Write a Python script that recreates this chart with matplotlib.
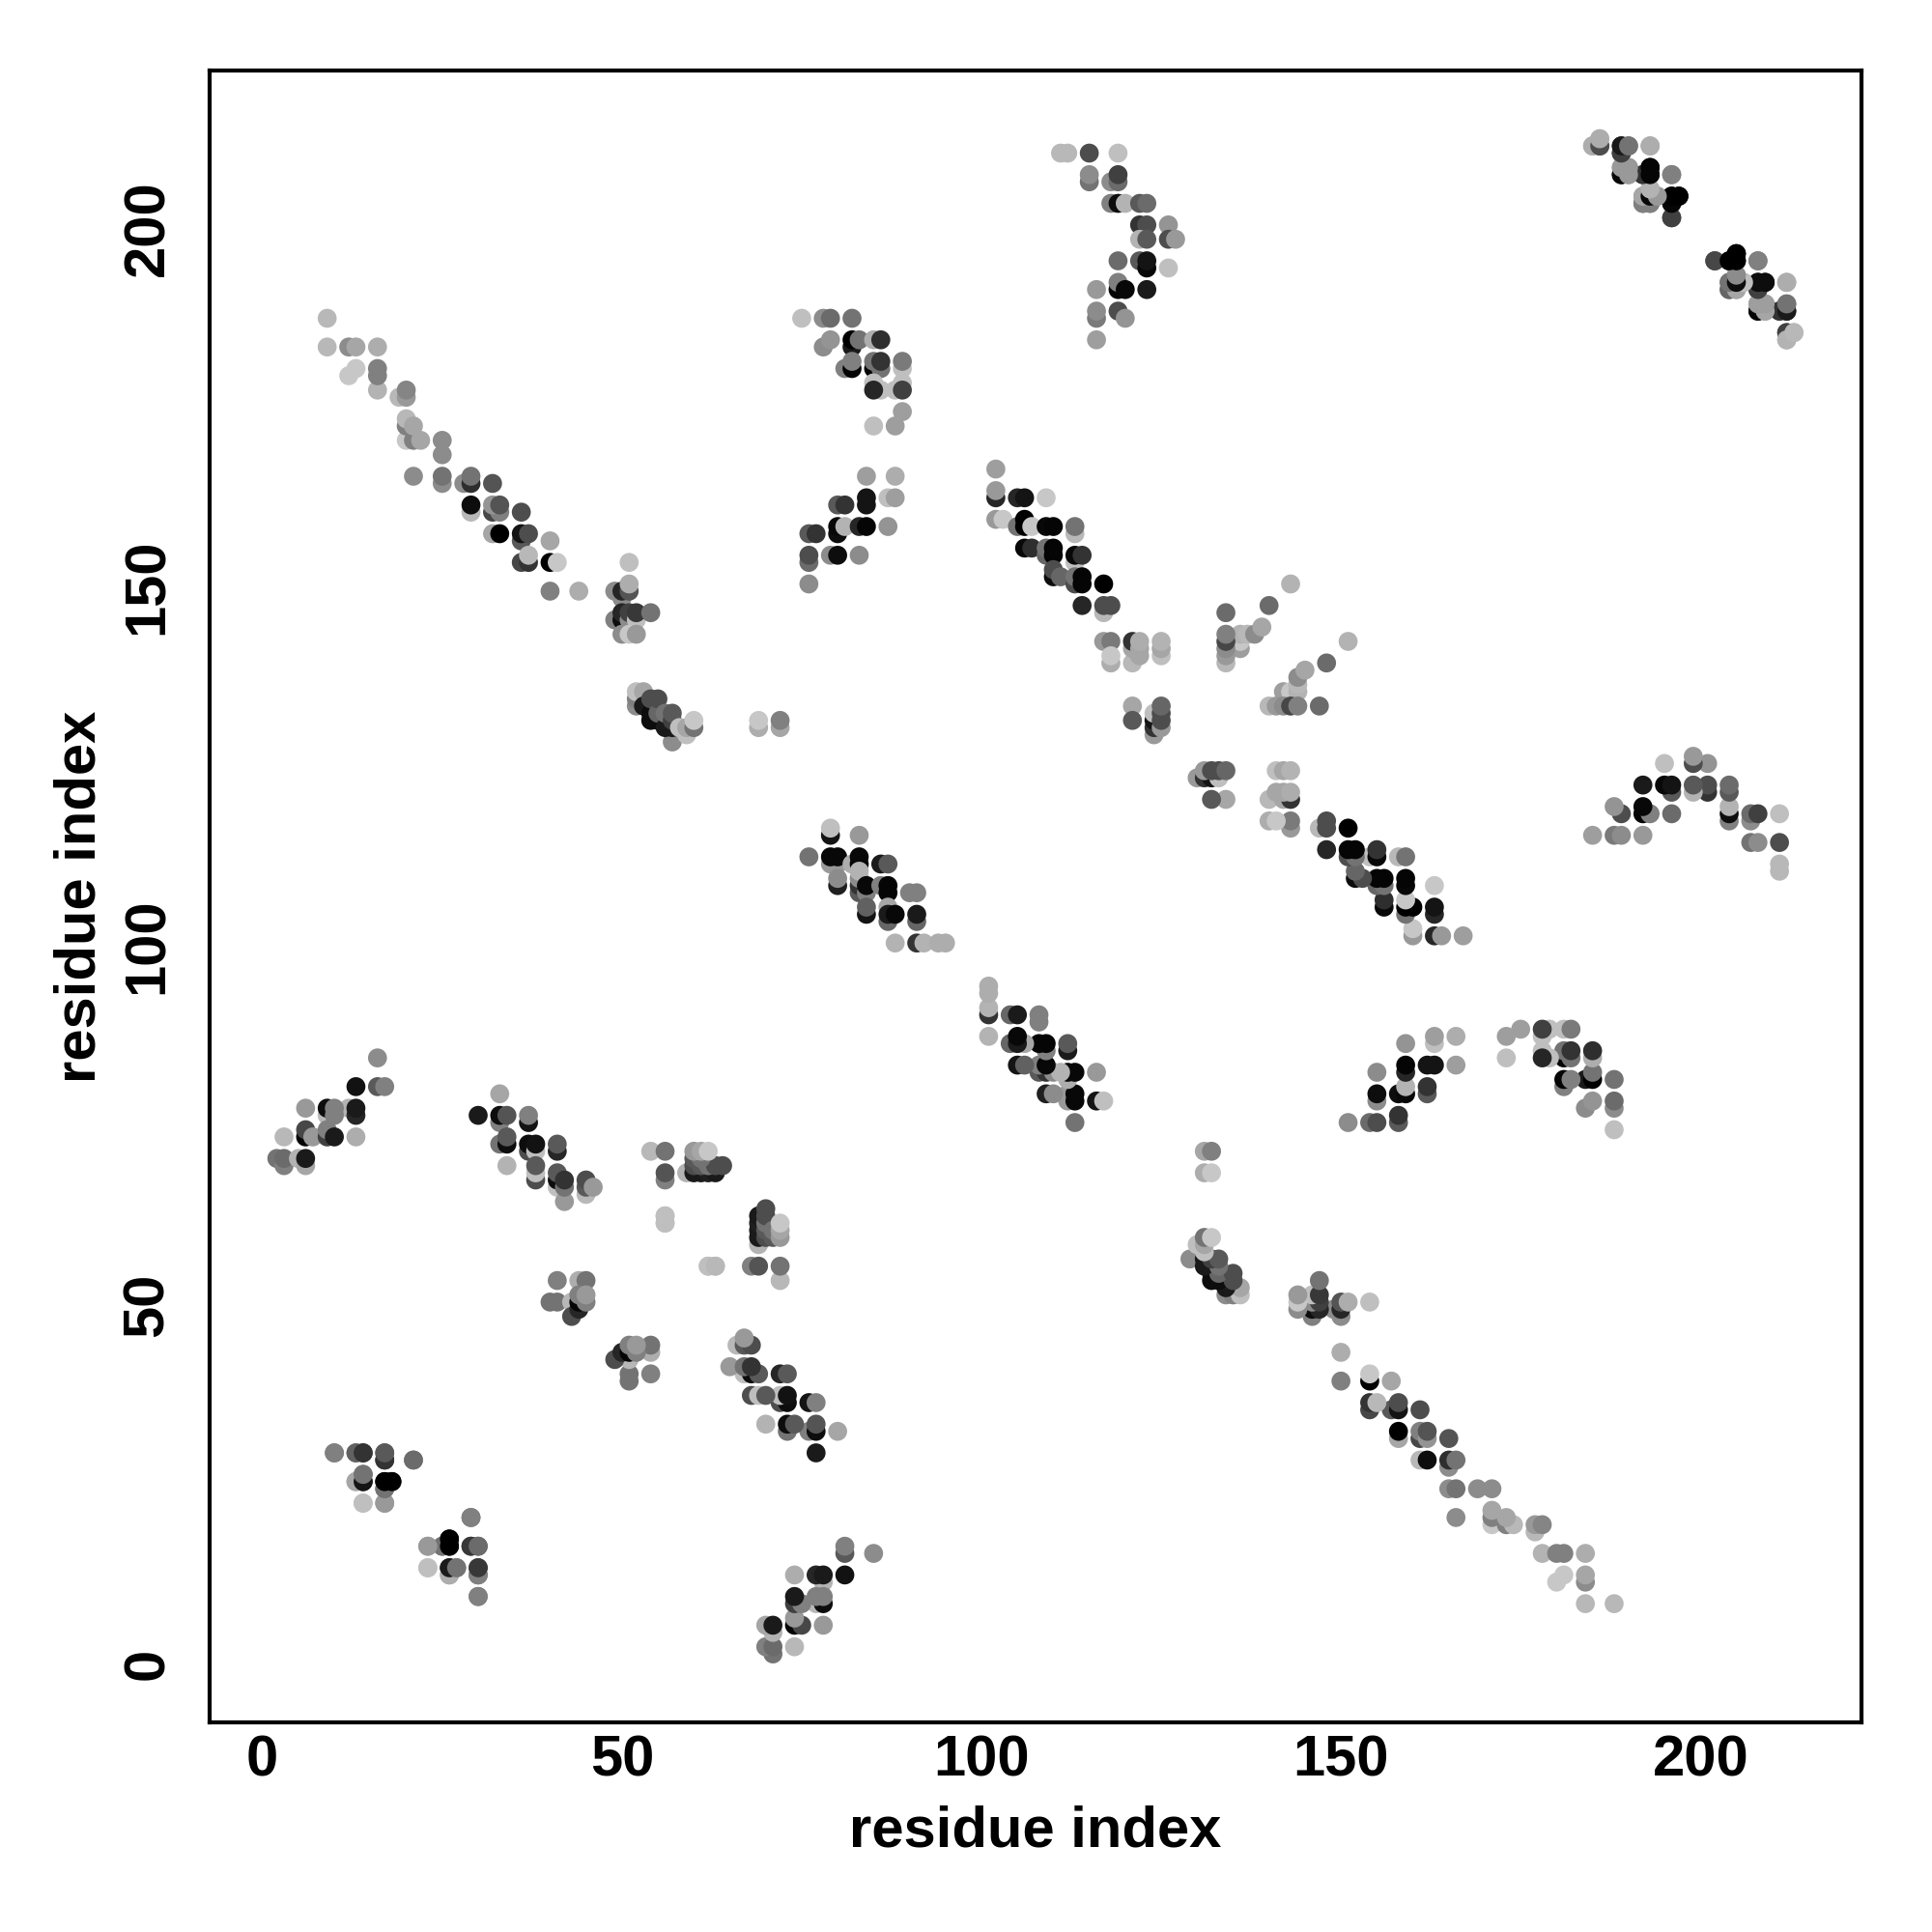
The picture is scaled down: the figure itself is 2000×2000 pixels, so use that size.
import matplotlib
matplotlib.use("Agg")
import matplotlib.pyplot as plt
from matplotlib.transforms import ScaledTranslation

plt.rcParams['font.family'] = ['Liberation Sans', 'DejaVu Sans']

# residue i, residue j, grey level (each contact is shown at (i,j) and (j,i))
cluster_a = [(16,85,.55),(13,81,.07),(16,81,.35),(17,81,.5),(6,78,.6),(9,77,.72),(9,78,.05),(12,78,.7),(10,78,.5),(10,77,.5),(13,77,.15),(13,78,.1),
             (6,74,.02),(6,75,.28),(7,74,.6),(9,74,.25),(9,75,.5),(10,74,.1),(3,74,.72),(13,74,.68),(2,71,.45),(3,70,.5),(3,71,.42),(5,71,.7),(6,70,.65),(6,71,.1)]
cluster_c = [(33,80,.65),(30,77,.1),(33,76,.5),(33,77,.05),(34,77,.33),(37,76,.08),(37,77,.5),(33,73,.45),(34,73,.05),(34,74,.35),(34,70,.7),
             (37,72,.3),(37,73,.05),(38,72,.75),(38,73,.07),(41,72,.15),(41,73,.35),(38,68,.3),(38,69,.75),(38,70,.35),(41,67,.75),(41,68,.05),(41,69,.35),
             (42,65,.6),(42,67,.45),(42,68,.2),(45,66,.72),(45,67,.35),(45,68,.3),(46,67,.6)]
cluster_d = [(10,30,.5),(13,30,.5),(14,30,.22),(17,29,.22),(17,30,.42),(21,29,.5),(13,26,.68),(14,26,.1),(14,27,.45),(17,25,.45),(17,26,0),(18,26,0),
             (14,23,.75),(17,23,.6),(29,21,.42),(23,17,.6),(25,17,.45),(26,18,0),(26,17,0),(29,17,.2),(30,17,.35),(23,14,.75),(26,13,.65),(26,14,.08),(27,14,.45),
             (30,13,.38),(30,14,.2),(30,10,.5)]
cluster_e = [(41,54,.5),(44,54,.68),(45,54,.45),(40,51,.45),(41,51,.45),(43,51,.72),(43,49,.3),(44,50,.15),(44,51,.02),(45,51,.5),(44,52,.5),(45,52,.6)]
cluster_f = [(54,72,.72),(56,72,.45),(56,68,.5),(56,69,.33),(56,62,.75),(56,63,.72),(62,56,.75),(63,56,.75),(59,69,.7),
             (60,69,.1),(61,69,.1),(62,69,.12),(63,69,.1),(60,70,.3),(61,70,.35),(62,70,.45),(63,70,.3),
             (60,71,.35),(61,71,.45),(60,72,.6),(61,72,.65),(62,72,.78),(64,70,.3)]
cluster_b1 = [(9,188,.72),(9,184,.72),(12,184,.55),(13,184,.65),(16,184,.68),(12,180,.78),(13,181,.78),(16,178,.7),(16,180,.5),(16,181,.5),
              (19,177,.72),(20,177,.6),(20,178,.52),(20,171,.78),(20,173,.5),(20,174,.72),(21,171,.5),(21,173,.65),(22,171,.65),
              (25,169,.55),(25,171,.55),(21,166,.55),(25,165,.55),(25,166,.45),(28,165,.55),(29,165,.18),(29,166,.45),(32,165,.33),
              (29,161,.72),(29,162,.05),(32,161,.28),(33,161,.5),(32,162,.58),(33,162,.33),(36,161,.3),(32,158,.65),(33,158,.0),
              (36,157,.35),(36,158,.08),(37,158,.3),(40,157,.65),(36,154,.28),(37,154,.2),(37,155,.72),(40,154,.0),(41,154,.78),(40,150,.5),(44,150,.68)]
cluster_b2 = [(51,154,.75),(49,150,.55),(50,149,.55),(50,150,.15),(51,150,.33),(51,151,.68),(49,146,.5),(50,146,.05),(50,147,.15),(51,146,.55),(51,147,.25),
              (52,146,.75),(52,147,.22),(54,147,.45),(50,144,.55),(51,144,.78),(52,144,.6),
              (52,134,.55),(52,135,.5),(52,136,.75),(53,136,.65),(53,134,.1),(54,132,.05),(54,133,.05),(54,135,.3),(55,132,.05),(55,133,.4),(55,135,.3),
              (57,129,.55),(56,131,.1),(57,131,.1),(56,133,.45),(57,132,.25),(57,133,.35),(58,131,.75),(59,130,.75),(59,131,.65),(60,131,.45),(60,132,.78),
              (69,131,.68),(69,132,.78),(72,131,.65),(72,132,.5)]
cluster_g = [(75,188,.75),(78,188,.55),(79,188,.42),(82,188,.45),(78,184,.55),(79,185,.58),(82,184,.1),(82,185,.0),(83,185,.45),(85,185,.68),(86,185,.18),
             (81,181,.5),(82,181,.02),(82,182,.5),(85,181,.02),(86,181,.45),(85,182,.45),(86,182,.2),(89,181,.75),(89,182,.48),
             (85,179,.75),(86,178,.75),(88,178,.75),(89,179,.75),(85,178,.15),(89,178,.25),(89,175,.62),(85,173,.75),(88,173,.62)]
cluster_h = [(84,166,.62),(88,166,.68),(87,163,.75),(88,163,.62),(84,162,.08),(84,163,.08),(80,162,.35),(81,162,.2),(80,158,.05),(80,159,.03),(81,159,.7),
             (83,159,.15),(84,159,.02),(87,159,.58),(76,158,.35),(77,158,.2),(76,154,.42),(76,155,.3),(79,155,.55),(80,155,.05),(83,155,.55),(76,151,.55)]
cluster_i = [(79,116,.08),(79,117,.75),(83,116,.6),(76,113,.45),(79,112,.6),(80,112,.6),(79,113,.03),(80,113,.03),(82,112,.68),(83,112,.02),(83,113,.03),
             (80,109,.12),(80,110,.55),(83,108,.35),(83,109,.2),(83,110,.55),(83,111,.7),(86,112,.1),(87,112,.35),(84,108,.5),(84,109,.03),
             (86,109,.5),(87,108,.02),(87,109,.02),(84,105,.08),(84,106,.38),(87,104,.4),(87,106,.65),(87,105,.1),(88,105,.03),
             (90,108,.5),(91,108,.5),(91,104,.4),(91,105,.1),(88,101,.7),(91,101,.2),(92,101,.7),(94,101,.68),(95,101,.68)]
cluster_l = [(102,167,.62),(102,163,.15),(102,164,.6),(105,163,.15),(106,163,.08),(109,163,.78),(102,160,.6),(103,160,.78),(105,159,.45),(106,159,.0),(106,160,.0),(107,159,.78),
             (109,159,.03),(110,159,.02),(113,158,.72),(113,159,.45),(106,156,.03),(107,156,.18),(109,155,.4),(109,156,.45),(110,155,.02),(110,156,.02),
             (113,154,.75),(113,155,.03),(114,155,.2),(110,152,.05),(110,153,.3),(111,152,.4),(113,151,.3),(113,152,.45),(114,151,.02),(114,152,.02),
             (117,151,.0),(114,148,.15),(117,147,.72),(117,148,.3),(118,148,.3),(117,143,.6),(118,143,.48),
             (121,140,.72),(121,142,.65),(121,143,.2),(122,141,.65),(122,142,.65),(122,143,.68),(125,141,.75),(125,142,.65),(125,143,.7),(118,140,.68),(118,141,.78),
             (121,134,.65),(121,132,.35),(124,130,.6),(124,131,.2),(124,132,.08),(124,133,.75),(125,131,.6),(125,132,.3),(125,133,.3),(125,134,.4)]
cluster_m = [(111,211,.72),(112,211,.72),(115,211,.3),(119,211,.75),(115,207,.45),(115,208,.55),(118,207,.55),(119,207,.42),(119,208,.25),
             (118,204,.5),(119,204,.05),(120,204,.7),(122,204,.35),(123,204,.42),(122,201,.2),(123,201,.3),(126,201,.58),
             (122,199,.7),(123,199,.35),(126,199,.3),(127,199,.6),(119,196,.42),(122,196,.35),(123,195,.03),(123,196,.08),(126,195,.75),
             (119,192,.02),(119,193,.5),(120,192,.03),(123,192,.1),(116,192,.6),(116,188,.48),(116,189,.55),(119,189,.3),(120,188,.58),(116,185,.62)]
cluster_p = [(186,212,.25),(185,212,.7),(186,213,.72),(189,211,.2),(189,212,.1),(190,212,.45),(193,212,.68),(189,208,.02),(189,209,.65),(190,208,.62),(190,209,.62),
             (192,208,.25),(193,208,.05),(193,209,.05),(196,208,.5),(192,204,.4),(192,205,.65),(193,204,.45),(193,206,.75),(193,205,.05),(194,205,.55),
             (196,202,.28),(196,204,.0),(196,205,.0),(197,205,.0),(202,196,.25),(204,196,.02),(205,196,.0),(205,197,.0),(208,196,.5),
             (204,192,.5),(204,193,.5),(205,192,.65),(205,193,.03),(205,194,.6),(206,193,.7),(208,192,.2),(208,193,.02),(209,193,.02),(212,193,.68),
             (208,189,.03),(209,189,.6),(208,190,.6),(209,190,.6),(211,189,.25),(212,189,.1),(212,190,.45),(212,185,.68),(212,186,.3),(213,186,.68)]
cluster_n = [(143,151,.7),(140,148,.42),(134,147,.42),(136,142,.62),(136,143,.78),(136,144,.7),(137,144,.72),(138,144,.55),(139,145,.65),
             (134,140,.72),(134,141,.6),(134,142,.55),(134,143,.28),(134,144,.5)]

clusters = [cluster_a, cluster_c, cluster_d, cluster_e, cluster_f, cluster_b1, cluster_b2, cluster_g,
            cluster_h, cluster_i, cluster_l, cluster_m, cluster_p, cluster_n]
x_ticks = [0, 50, 100, 150, 200]
y_ticks = [0, 50, 100, 150, 200]
axis_label = "residue index"

fig = plt.figure(figsize=(10, 10), dpi=200)
ax = fig.add_axes([217/2000, 1-1783/2000, (1927-217)/2000, (1783-73)/2000])

for cluster in clusters:
    xs = [c[0] for c in cluster]
    ys = [c[1] for c in cluster]
    gs = [str(c[2]) for c in cluster]
    ax.scatter(xs, ys, s=50, c=gs, linewidths=0, zorder=2)
    ax.scatter(ys, xs, s=50, c=gs, linewidths=0, zorder=2)

ax.set_xlim(-7.35, 222.4)
ax.set_ylim(-7.53, 222.5)
ax.set_xticks(x_ticks)
ax.set_yticks(y_ticks)
ax.tick_params(axis='x', length=0, labelsize=21.5, pad=4.5)
ax.tick_params(axis='y', length=0, labelsize=21.5, pad=13)
for lab in ax.get_xticklabels():
    lab.set_fontweight('bold')
lift = ScaledTranslation(0, 1.6/72, fig.dpi_scale_trans)
for lab in ax.get_yticklabels():
    lab.set_fontweight('bold')
    lab.set_rotation(90)
    lab.set_va('center')
    lab.set_transform(lab.get_transform() + lift)
for s in ax.spines.values():
    s.set_linewidth(1.5)
ax.set_xlabel(axis_label, fontsize=21.5, fontweight='bold', labelpad=6.3)
ax.set_ylabel(axis_label, fontsize=21.5, fontweight='bold', labelpad=5.4)

fig.savefig("out.png", dpi=200)
